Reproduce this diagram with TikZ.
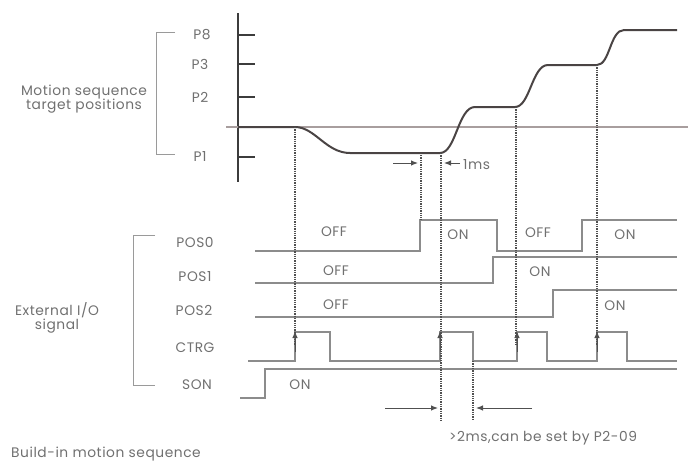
\documentclass[tikz,border=0pt]{standalone}
\usepackage{fontspec}
\setmainfont{Poppins}[LetterSpace=4]
\usetikzlibrary{arrows.meta}
\definecolor{txt}{HTML}{707070}
\definecolor{sigc}{HTML}{8C8C8C}
\definecolor{dotc}{HTML}{505050}
\definecolor{curvec}{HTML}{4A4444}
\definecolor{axisc}{HTML}{3C3C3C}
\definecolor{zeroc}{HTML}{A89E9E}
\definecolor{brkc}{HTML}{9A9A9A}
\tikzset{
  lbl/.style={text=txt, inner sep=0pt, font=\fontsize{13.8}{15}\selectfont},
  sig/.style={draw=sigc, line width=1.3pt},
  dotl/.style={draw=dotc, line width=1.2pt, dash pattern=on 1.3pt off 1pt},
  curveline/.style={draw=curvec, line width=2pt, line join=round},
  axisline/.style={draw=axisc, line width=2pt},
  brk/.style={draw=brkc, line width=1pt},
  arr/.style={draw=dotc, line width=1pt, -{Latex[length=7pt,width=5.5pt]}},
}
\begin{document}
\begin{tikzpicture}[x=1pt,y=-1pt]
\useasboundingbox (0,0) rectangle (688,463);
% labels
\node[lbl, align=center] (mst) at (84,99) {Motion sequence\\[-1pt]target positions};
\node[lbl] (p8) at (202,35) {P8};
\node[lbl] (p3) at (200,64) {P3};
\node[lbl] (p2) at (200,97) {P2};
\node[lbl] (p1) at (200,157) {P1};
\node[lbl, align=center] (ext) at (57,318) {External I/O\\[-1pt]signal};
\node[lbl] (pos0) at (195,242) {POS0};
\node[lbl] (pos1) at (195,277) {POS1};
\node[lbl] (pos2) at (194,310) {POS2};
\node[lbl] (ctrg) at (195,348) {CTRG};
\node[lbl] (son) at (197,385) {SON};
\node[lbl] (off0a) at (334,232) {OFF};
\node[lbl] (on0a) at (458,235) {ON};
\node[lbl] (off0b) at (538,233) {OFF};
\node[lbl] (on0b) at (625,235) {ON};
\node[lbl] (off1) at (336,271) {OFF};
\node[lbl] (on1) at (540,272) {ON};
\node[lbl] (off2) at (336,305) {OFF};
\node[lbl] (on2) at (615,306) {ON};
\node[lbl] (onson) at (300,385) {ON};
\node[lbl, anchor=west] (ms1) at (463,165) {1ms};
\node[lbl] (ms2) at (543,438) {>2ms,can be set by P2-09};
\node[lbl, anchor=west] (bims) at (11,454) {Build-in motion sequence};
% brackets
\draw[brk] (175,32) -- (156,32) -- (156,154) -- (175,154);
\draw[brk] (155,235) -- (133,235) -- (133,385) -- (155,385);
% axis
\draw[axisline] (238,13) -- (238,182);
\foreach \yy in {35,64,97,157} \draw[axisline] (238,\yy) -- (255,\yy);
\draw[draw=zeroc, line width=1.5pt] (226,127) -- (688,127);
% motion curve
\draw[curveline] (238,127) -- (295,127) .. controls (315,127) and (326,153) .. (350,153) -- (440,153)
  .. controls (456,153) and (458,107) .. (475,107) -- (515,107)
  .. controls (530,107) and (532,65) .. (548,65) -- (597,65)
  .. controls (610,65) and (610,30) .. (624,30) -- (677,30);
% signals
\draw[sig] (255,251) -- (420,251) -- (420,220) -- (497,220) -- (497,251) -- (582,251) -- (582,220) -- (677,220);
\draw[sig] (255,283) -- (493,283) -- (493,257) -- (677,257);
\draw[sig] (255,317) -- (553,317) -- (553,290) -- (677,290);
\draw[sig] (248,361) -- (295,361) -- (295,332) -- (330,332) -- (330,361) -- (440,361) -- (440,332) -- (473,332) -- (473,361)
  -- (517,361) -- (517,332) -- (547,332) -- (547,361) -- (597,361) -- (597,332) -- (627,332) -- (627,361) -- (677,361);
\draw[sig] (240,398) -- (265,398) -- (265,369) -- (677,369);
% dotted lines
\coordinate (d1t) at (295,127); \coordinate (d1b) at (295,345);
\coordinate (d2t) at (421,155); \coordinate (d2b) at (421,220);
\coordinate (d3t) at (441,153); \coordinate (d3b) at (441,420);
\coordinate (d4t) at (473,361); \coordinate (d4b) at (473,420);
\coordinate (d5t) at (516,107); \coordinate (d5b) at (516,345);
\coordinate (d6t) at (597,65);  \coordinate (d6b) at (597,345);
\draw[dotl] (d1t) -- (d1b);
\draw[dotl] (d2t) -- (d2b);
\draw[dotl] (d3t) -- (d3b);
\draw[dotl] (d4t) -- (d4b);
\draw[dotl] (d5t) -- (d5b);
\draw[dotl] (d6t) -- (d6b);
% CTRG arrowheads
\foreach \xx in {295,440,517,597} \draw[arr] (\xx,352) -- (\xx,331);
% 1ms arrows
\coordinate (a1s) at (393,163); \coordinate (a1e) at (418,163);
\coordinate (a2s) at (460,163); \coordinate (a2e) at (444,163);
\draw[arr] (a1s) -- (a1e);
\draw[arr] (a2s) -- (a2e);
% 2ms arrows
\coordinate (b1s) at (385,408); \coordinate (b1e) at (438,408);
\coordinate (b2s) at (532,408); \coordinate (b2e) at (476,408);
\draw[arr] (b1s) -- (b1e);
\draw[arr] (b2s) -- (b2e);
\end{tikzpicture}
\end{document}
